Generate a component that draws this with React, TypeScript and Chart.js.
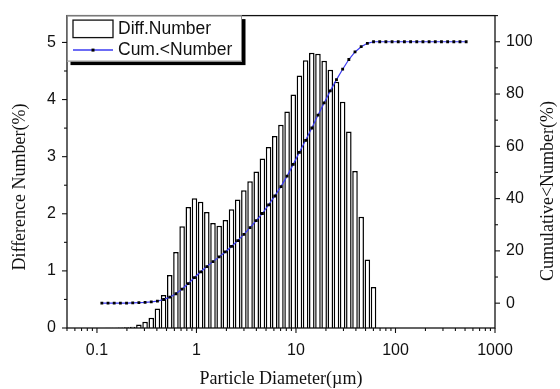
import React, { useEffect, useRef } from 'react';
import { Chart, registerables } from 'chart.js';

Chart.register(...registerables);

// Particle size classes (µm)
const diameters = [
  0.112, 0.1292, 0.149, 0.1719, 0.1983, 0.2288, 0.2639, 0.3044, 0.3512, 0.4051,
  0.4673, 0.5391, 0.6219, 0.7175, 0.8277, 0.9548, 1.1015, 1.2706, 1.4658, 1.691,
  1.951, 2.25, 2.596, 2.995, 3.455, 3.985, 4.598, 5.304, 6.118, 7.058,
  8.142, 9.391, 10.83, 12.5, 14.42, 16.63, 19.19, 22.13, 25.53, 29.45,
  33.98, 39.19, 45.22, 52.16, 60.17, 69.41, 80.07, 92.37, 106.6, 122.9,
  141.8, 163.6, 188.7, 217.7, 251.2, 289.7, 334.2, 385.5, 444.8, 513.1,
];

// Difference number (%) per class (first 45 classes, rest are zero)
const diffNumber = [
  0.002, 0.003, 0.005, 0.008, 0.012, 0.02, 0.06, 0.11, 0.18, 0.34,
  0.58, 0.93, 1.33, 1.78, 2.12, 2.27, 2.21, 2.03, 1.84, 1.79,
  1.89, 2.08, 2.25, 2.41, 2.57, 2.74, 2.97, 3.17, 3.36, 3.56,
  3.79, 4.09, 4.42, 4.69, 4.82, 4.8, 4.68, 4.52, 4.31, 3.96,
  3.44, 2.75, 1.95, 1.2, 0.72,
];

// Cumulative < number (%)
const cumNumber = [
  0, 0, 0, 0, 0, 0.1, 0.2, 0.3, 0.5, 0.8,
  1.4, 2.3, 3.6, 5.4, 7.5, 9.8, 12.0, 14.0, 15.9, 17.7,
  19.6, 21.7, 23.9, 26.3, 28.9, 31.6, 34.3, 37.6, 41.0, 44.6,
  48.6, 53.1, 57.7, 62.3, 67.0, 71.9, 76.6, 81.2, 85.5, 89.5,
  93.2, 96.1, 98.1, 99.4, 100, 100, 100, 100, 100, 100,
  100, 100, 100, 100, 100, 100, 100, 100, 100, 100,
];

const xTickValues = [0.1, 1, 10, 100, 1000];
const yLeftTicks = [0, 1, 2, 3, 4, 5];
const yLeftMinor = [0.5, 1.5, 2.5, 3.5, 4.5];
const yRightTicks = [0, 20, 40, 60, 80, 100];
const yRightMinor = [10, 30, 50, 70, 90, 110];

const SANS = '"Liberation Sans", Arial, sans-serif';
const SERIF = '"Liberation Serif", "Times New Roman", serif';
const LINE_BLUE = '#3b3bf2';

const decorPlugin = {
  id: 'decor',
  afterDraw(chart: any) {
    const { ctx, chartArea: a, scales } = chart;
    const sx = scales.x;
    const sy = scales.y;
    const sy2 = scales.y2;
    ctx.save();
    const line = (x1: number, y1: number, x2: number, y2: number) => {
      ctx.beginPath();
      ctx.moveTo(x1, y1);
      ctx.lineTo(x2, y2);
      ctx.stroke();
    };
    // frame
    ctx.strokeStyle = '#111';
    ctx.lineWidth = 1.3;
    ctx.strokeRect(a.left, a.top, a.right - a.left, a.bottom - a.top);

    // ticks
    ctx.lineWidth = 1.1;
    xTickValues.forEach((v) => {
      const p = sx.getPixelForValue(v);
      line(p, a.bottom, p, a.bottom + 5);
    });
    for (let e = -2; e <= 3; e++) {
      for (let k = 2; k <= 9; k++) {
        const v = k * Math.pow(10, e);
        if (v < sx.min || v > sx.max) continue;
        const p = sx.getPixelForValue(v);
        line(p, a.bottom, p, a.bottom + 3);
      }
    }
    yLeftTicks.forEach((v) => {
      const p = sy.getPixelForValue(v);
      line(a.left, p, a.left - 5, p);
    });
    yLeftMinor.forEach((v) => {
      const p = sy.getPixelForValue(v);
      line(a.left, p, a.left - 3, p);
    });
    yRightTicks.forEach((v) => {
      const p = sy2.getPixelForValue(v);
      line(a.right, p, a.right + 5, p);
    });
    yRightMinor.forEach((v) => {
      if (v > sy2.max || v < sy2.min) return;
      const p = sy2.getPixelForValue(v);
      line(a.right, p, a.right + 3, p);
    });

    // axis titles
    ctx.fillStyle = '#111';
    ctx.font = '18px ' + SERIF;
    ctx.textAlign = 'center';
    ctx.textBaseline = 'middle';
    ctx.fillText('Particle Diameter(µm)', (a.left + a.right) / 2, 379);
    ctx.save();
    ctx.translate(20, 187);
    ctx.rotate(-Math.PI / 2);
    ctx.fillText('Difference Number(%)', 0, 0);
    ctx.restore();
    ctx.save();
    ctx.translate(548, 191);
    ctx.rotate(-Math.PI / 2);
    ctx.fillText('Cumulative<Number(%)', 0, 0);
    ctx.restore();

    // legend
    const lx = a.left, ly = a.top, lw = 175, lh = 46;
    ctx.fillStyle = '#000';
    ctx.fillRect(lx + 3.5, ly + 3.5, lw, lh);
    ctx.fillStyle = '#fff';
    ctx.fillRect(lx, ly, lw, lh);
    ctx.strokeStyle = '#888';
    ctx.lineWidth = 1;
    ctx.strokeRect(lx + 0.5, ly + 0.5, lw - 1, lh - 1);
    ctx.strokeStyle = '#111';
    ctx.lineWidth = 1.3;
    ctx.strokeRect(lx + 6, ly + 4.5, 40, 17.5);
    ctx.strokeStyle = LINE_BLUE;
    ctx.lineWidth = 1.5;
    line(lx + 6, ly + 34.5, lx + 46, ly + 34.5);
    ctx.fillStyle = '#000';
    ctx.fillRect(lx + 24.5, ly + 33, 3, 3);
    ctx.fillStyle = '#111';
    ctx.font = '17.5px ' + SANS;
    ctx.textAlign = 'left';
    ctx.textBaseline = 'middle';
    ctx.fillText('Diff.Number', lx + 51, ly + 14);
    ctx.fillText('Cum.<Number', lx + 51, ly + 35);
    ctx.restore();
  },
};

export default function App() {
  const canvasRef = useRef<HTMLCanvasElement>(null);

  useEffect(() => {
    document.body.style.margin = '0';
    const canvas = canvasRef.current;
    if (!canvas) return;

    const barData = diffNumber.map((v, i) => ({ x: diameters[i], y: v }));
    const lineData = cumNumber.map((v, i) => ({ x: diameters[i], y: v }));

    const chart = new Chart(canvas, {
      type: 'bar',
      data: {
        datasets: [
          {
            type: 'line',
            label: 'Cum.<Number',
            data: lineData,
            yAxisID: 'y2',
            xAxisID: 'x',
            borderColor: LINE_BLUE,
            borderWidth: 1.2,
            pointStyle: 'rect',
            pointRadius: 2,
            pointBackgroundColor: '#000',
            pointBorderColor: '#000',
            pointBorderWidth: 0,
            order: 0,
          } as any,
          {
            type: 'bar',
            label: 'Diff.Number',
            data: barData,
            yAxisID: 'y',
            xAxisID: 'x',
            backgroundColor: '#fff',
            borderColor: '#000',
            borderWidth: 1.5,
            barPercentage: 0.9,
            categoryPercentage: 1,
            order: 1,
          } as any,
        ],
      },
      options: {
        responsive: false,
        animation: false,
        devicePixelRatio: 1,
        layout: { padding: { top: 11, left: 0, right: 0, bottom: 0 } },
        plugins: {
          legend: { display: false },
          tooltip: { enabled: false },
        },
        scales: {
          x: {
            type: 'logarithmic',
            position: 'bottom',
            min: 0.05,
            max: 1000,
            grid: { display: false, drawTicks: true, tickLength: 5 },
            border: { display: false },
            afterBuildTicks: (s: any) => {
              s.ticks = xTickValues.map((v) => ({ value: v }));
            },
            afterFit: (s: any) => {
              s.height = 61;
            },
            ticks: {
              autoSkip: false,
              maxRotation: 0,
              padding: 8,
              color: '#111',
              font: { family: SANS, size: 16 },
              callback: (v: any) => String(v),
            },
          },
          y: {
            type: 'linear',
            position: 'left',
            min: 0,
            max: 5.47,
            grid: { display: false, drawTicks: true, tickLength: 5 },
            border: { display: false },
            afterBuildTicks: (s: any) => {
              s.ticks = yLeftTicks.map((v) => ({ value: v }));
            },
            afterFit: (s: any) => {
              s.width = 67;
            },
            ticks: {
              padding: 6,
              color: '#111',
              font: { family: SANS, size: 16 },
              callback: (v: any) => String(v),
            },
          },
          y2: {
            type: 'linear',
            position: 'right',
            min: -9.5,
            max: 110,
            grid: { display: false, drawTicks: true, tickLength: 5 },
            border: { display: false },
            afterBuildTicks: (s: any) => {
              s.ticks = yRightTicks.map((v) => ({ value: v }));
            },
            afterFit: (s: any) => {
              s.width = 65;
            },
            ticks: {
              padding: 6,
              color: '#111',
              font: { family: SANS, size: 16 },
              callback: (v: any) => String(v),
            },
          },
        },
      } as any,
      plugins: [decorPlugin],
    });

    return () => chart.destroy();
  }, []);

  return (
    <div style={{ width: 560, height: 389, background: '#fff' }}>
      <canvas ref={canvasRef} width={560} height={389} />
    </div>
  );
}
